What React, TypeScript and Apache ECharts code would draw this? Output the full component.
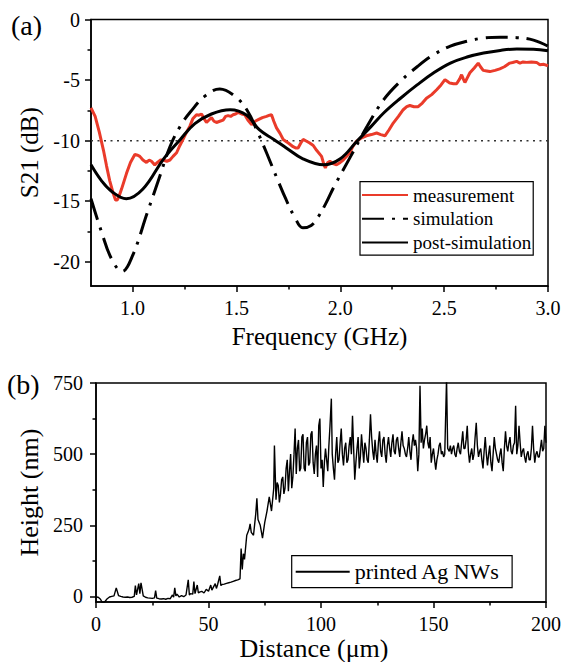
import { useEffect, useRef } from "react";
import * as echarts from "echarts";

const FONT = "'Liberation Serif', 'Times New Roman', Times, serif";

// ---------- panel (a): S21 vs frequency ----------
const freqTicks = [1.0, 1.5, 2.0, 2.5, 3.0];
const freqMinorTicks = [1.25, 1.75, 2.25, 2.75];
const s21Ticks = [-20, -15, -10, -5, 0];
const s21MinorTicks = [-17.5, -12.5, -7.5, -2.5];
const thresholdDb = -10;

const measurement: [number, number][] = [
  [0.8, -7.3], [0.82, -8.0], [0.84, -9.3], [0.86, -10.8], [0.875, -12.1], [0.89, -13.3],
  [0.906, -14.3], [0.918, -14.9], [0.926, -14.9], [0.935, -14.6], [0.947, -14.0], [0.96, -13.3],
  [0.971, -12.7], [0.99, -11.8], [1.011, -11.15], [1.025, -11.2], [1.035, -11.3], [1.05, -11.6],
  [1.067, -11.8], [1.08, -11.6], [1.091, -11.7], [1.107, -12.0], [1.12, -11.8], [1.135, -11.6],
  [1.147, -11.6], [1.165, -11.7], [1.18, -11.6], [1.195, -11.3], [1.212, -11.0], [1.228, -10.4],
  [1.243, -9.9], [1.26, -9.3], [1.276, -8.8], [1.29, -8.2], [1.308, -7.86], [1.32, -7.9],
  [1.332, -7.8], [1.345, -8.2], [1.356, -8.5], [1.368, -8.3], [1.38, -8.1], [1.392, -8.4],
  [1.404, -8.5], [1.42, -8.4], [1.436, -8.3], [1.448, -8.0], [1.46, -7.94], [1.472, -8.0],
  [1.484, -7.86], [1.496, -7.8], [1.508, -7.67], [1.525, -7.8], [1.54, -7.86], [1.555, -8.3],
  [1.573, -8.68], [1.59, -8.4], [1.605, -8.27], [1.625, -8.1], [1.645, -8.0], [1.66, -7.9],
  [1.669, -7.86], [1.68, -8.4], [1.693, -8.95], [1.71, -9.4], [1.725, -9.9], [1.75, -10.2],
  [1.773, -10.5], [1.785, -10.6], [1.797, -10.6], [1.81, -10.2], [1.821, -9.9], [1.838, -10.05],
  [1.853, -10.2], [1.87, -10.4], [1.886, -10.8], [1.91, -11.3], [1.92, -11.9], [1.928, -12.25],
  [1.94, -11.8], [1.95, -11.7], [1.965, -11.9], [1.982, -12.0], [2.0, -11.8], [2.014, -11.6],
  [2.03, -11.3], [2.046, -11.0], [2.06, -10.5], [2.078, -10.05], [2.1, -9.8], [2.126, -9.6],
  [2.15, -9.5], [2.175, -9.37], [2.195, -9.5], [2.215, -9.6], [2.235, -9.1], [2.255, -8.55],
  [2.28, -8.0], [2.303, -7.45], [2.32, -7.2], [2.335, -7.1], [2.355, -7.2], [2.375, -7.2],
  [2.395, -6.9], [2.415, -6.5], [2.44, -6.2], [2.464, -5.8], [2.485, -5.4], [2.504, -4.97],
  [2.515, -5.1], [2.527, -5.25], [2.545, -5.3], [2.56, -5.3], [2.575, -4.9], [2.584, -4.56],
  [2.592, -4.9], [2.6, -5.2], [2.612, -4.8], [2.624, -4.4], [2.645, -4.0], [2.664, -3.6],
  [2.675, -3.9], [2.688, -4.2], [2.705, -4.25], [2.72, -4.3], [2.745, -4.2], [2.768, -4.07],
  [2.79, -3.9], [2.816, -3.6], [2.83, -3.55], [2.849, -3.46], [2.865, -3.6], [2.88, -3.5],
  [2.897, -3.54], [2.92, -3.5], [2.945, -3.54], [2.961, -3.73], [2.98, -3.7], [3.0, -3.82],
];

const simulation: [number, number][] = [
  [0.8, -14.8], [0.85, -17.5], [0.9, -19.8], [0.95, -20.8], [1.0, -19.5], [1.07, -16.0],
  [1.13, -13.0], [1.18, -10.5], [1.23, -8.8], [1.28, -7.6], [1.35, -6.3], [1.42, -5.74],
  [1.49, -6.3], [1.55, -7.45], [1.6, -9.2], [1.645, -11.0], [1.7, -13.3], [1.74, -14.9],
  [1.78, -16.3], [1.82, -17.2], [1.86, -17.0], [1.89, -16.4], [1.93, -15.2], [1.97, -13.8],
  [2.05, -11.3], [2.13, -8.8], [2.21, -6.6], [2.29, -5.1], [2.37, -3.9], [2.45, -2.9],
  [2.53, -2.2], [2.61, -1.8], [2.69, -1.53], [2.77, -1.47], [2.85, -1.5], [2.93, -1.7],
  [3.0, -2.2],
];

const postSimulation: [number, number][] = [
  [0.8, -12.0], [0.85, -13.3], [0.9, -14.2], [0.97, -14.8], [1.05, -14.0], [1.15, -11.5],
  [1.23, -9.9], [1.3, -8.6], [1.38, -7.8], [1.47, -7.45], [1.55, -7.9], [1.61, -9.1],
  [1.68, -9.9], [1.74, -10.6], [1.82, -11.5], [1.92, -12.0], [2.0, -11.5], [2.08, -10.05],
  [2.15, -8.8], [2.21, -7.7], [2.29, -6.5], [2.37, -5.4], [2.45, -4.4], [2.53, -3.6],
  [2.61, -3.1], [2.69, -2.77], [2.77, -2.55], [2.85, -2.44], [2.93, -2.45], [3.0, -2.58],
];

// ---------- panel (b): height profile ----------
const distanceTicks = [0, 50, 100, 150, 200];
const distanceMinorTicks = [25, 75, 125, 175];
const heightTicks = [0, 250, 500, 750];
const heightMinorTicks = [125, 375, 625];

const agProfile: [number, number][] = [
  [0, -2], [1, -3], [2, -10], [3, -25], [4, -18], [5, -8], [6, -2], [7, 0], [8, 2], [9, 30],
  [10, 3], [11, 0], [12, -2], [13, -3], [14, -2], [15, -4], [16, -3], [17, 0], [17.5, 38],
  [18, 5], [19, 45], [19.5, 10], [20, 48], [21, 2], [22, -3], [23, -5], [24, -6], [25, -7],
  [26, -5], [26.5, 20], [27, -6], [28, -8], [29, -9], [30, -8], [31, -10], [32, -7], [33, -8],
  [34, 5], [34.5, -3], [35, 30], [35.5, 2], [36, 8], [37, -2], [38, 3], [39, -1], [40, 5],
  [41, 58], [41.5, 5], [42, 10], [43, 8], [43.5, 52], [44, 10], [45, 40], [45.5, 12], [46, 15],
  [47, 18], [48, 12], [49, 25], [50, 18], [51, 40], [51.5, 22], [52, 30], [53, 45], [53.5, 28],
  [54, 40], [55, 72], [55.5, 38], [56, 42], [57, 43], [58, 46], [59, 48], [60, 50], [61, 53],
  [62, 56], [63, 58], [64, 62], [64.5, 168], [65, 95], [65.5, 150], [66, 130], [67, 215],
  [68, 235], [68.5, 255], [69, 225], [70, 215], [71, 290], [71.5, 345], [72, 270], [73, 250],
  [74, 205], [75, 260], [76, 300], [77, 350], [78, 300], [79, 380], [79.3, 530],
  [80, 340], [80.5, 400], [81, 390], [81.5, 330], [82, 360], [82.5, 410], [83, 420], [83.5, 360],
  [84, 380], [84.5, 450], [85, 480], [85.5, 370], [86, 440], [86.5, 500], [87, 380], [87.5, 420],
  [88, 500], [88.5, 590], [89, 430], [89.5, 520], [90, 550], [90.5, 440], [91, 450], [91.5, 560],
  [92, 570], [92.5, 450], [93, 440], [93.5, 540], [94, 560], [94.5, 460], [95, 470], [95.5, 570],
  [96, 580], [96.5, 470], [97, 430], [97.5, 500], [98, 530], [98.5, 420], [99, 600], [99.5, 625],
  [100, 450], [100.5, 480], [101, 385], [101.5, 470], [102, 520], [102.5, 480], [103, 440],
  [103.5, 530], [104, 600], [104.6, 695], [105, 500], [105.5, 450], [106, 410], [106.5, 500],
  [107, 560], [107.5, 470], [108, 480], [108.5, 540], [109, 590], [109.5, 500], [110, 460],
  [110.5, 520], [111, 540], [111.5, 470], [112, 480], [112.5, 530], [113, 560], [113.5, 500],
  [114, 635], [114.5, 520], [115, 410], [115.5, 470], [116, 520], [116.5, 560], [117, 450],
  [117.5, 490], [118, 570], [118.5, 520], [119, 470], [119.5, 540], [120, 520], [120.5, 480],
  [121, 470], [121.5, 550], [122, 640], [122.5, 560], [123, 510], [123.5, 480], [124, 550],
  [124.5, 500], [125, 470], [125.5, 540], [126, 580], [126.5, 510], [127, 490], [127.5, 550],
  [128, 560], [128.5, 500], [129, 470], [129.5, 530], [130, 560], [130.5, 520], [131, 490],
  [131.5, 540], [132, 570], [132.5, 510], [133, 500], [133.5, 550], [134, 560], [134.5, 520],
  [135, 490], [135.5, 540], [136, 580], [136.5, 530], [137, 520], [137.5, 500], [138, 490],
  [138.5, 520], [139, 560], [139.5, 510], [140, 480], [140.5, 540], [141, 570], [141.5, 530],
  [142, 550], [142.5, 520], [143, 440], [143.5, 500], [144, 740], [144.5, 540], [145, 590],
  [145.5, 520], [146, 550], [146.5, 570], [147, 600], [147.5, 540], [148, 520], [148.5, 560],
  [149, 470], [149.5, 500], [150, 520], [150.5, 480], [151, 445], [151.5, 480], [152, 500],
  [152.5, 530], [153, 540], [153.5, 500], [154, 510], [154.5, 490], [155, 500], [155.8, 765],
  [156.3, 520], [157, 510], [157.5, 530], [158, 500], [158.5, 520], [159, 530], [159.5, 500],
  [160, 490], [160.5, 520], [161, 540], [161.5, 510], [162, 500], [162.5, 540], [163, 580],
  [163.5, 520], [164, 520], [164.5, 550], [165, 600], [165.5, 510], [166, 470], [166.5, 500],
  [167, 520], [167.5, 480], [168, 500], [168.5, 560], [169, 610], [169.5, 530], [170, 490],
  [170.5, 510], [171, 520], [171.5, 480], [172, 450], [172.5, 510], [173, 560], [173.5, 500],
  [174, 460], [174.5, 500], [175, 530], [175.5, 470], [176, 440], [176.5, 500], [177, 560],
  [177.5, 520], [178, 500], [178.5, 480], [179, 470], [179.5, 500], [180, 520], [180.5, 470],
  [181, 440], [181.5, 520], [182, 580], [182.5, 530], [183, 510], [183.5, 540], [184, 560],
  [184.5, 510], [185, 500], [185.5, 530], [186, 540], [186.5, 670], [187, 500], [187.5, 530],
  [188, 600], [188.5, 540], [189, 490], [189.5, 510], [190, 520], [190.5, 490], [191, 470],
  [191.5, 500], [192, 510], [192.5, 480], [193, 480], [193.5, 520], [194, 600], [194.5, 520],
  [195, 470], [195.5, 500], [196, 510], [196.5, 490], [197, 490], [197.5, 520], [198, 550],
  [198.5, 510], [199, 520], [199.5, 600], [200, 540],
];

const BLACK = "#000";
const RED = "#ea3b2a";

const tickLine = { color: BLACK, width: 1.5 };
const labelBase = { color: BLACK, fontFamily: FONT, fontSize: 20 };
const nameBase = { color: BLACK, fontFamily: FONT, fontSize: 25 };

function majorAxis(grid: number, pos: string, min: number, max: number, ticks: number[], fmt: (v: number) => string, extra: any) {
  return {
    type: "value", gridIndex: grid, position: pos, min, max,
    axisLine: { show: true, onZero: false, lineStyle: tickLine },
    axisTick: { show: true, inside: false, length: 6, lineStyle: tickLine, customValues: ticks },
    axisLabel: { show: true, customValues: ticks, formatter: fmt, ...labelBase, ...(extra.label || {}) },
    splitLine: { show: false },
    name: extra.name, nameLocation: "middle", nameGap: extra.nameGap,
    nameTextStyle: { ...nameBase, ...(extra.nameStyle || {}) },
  };
}
function minorAxis(grid: number, pos: string, min: number, max: number, ticks: number[]) {
  return {
    type: "value", gridIndex: grid, position: pos, min, max,
    axisLine: { show: false, onZero: false },
    axisTick: { show: true, inside: false, length: 3.5, lineStyle: tickLine, customValues: ticks },
    axisLabel: { show: false },
    splitLine: { show: false },
  };
}

export default function App() {
  const ref = useRef<HTMLDivElement>(null);
  useEffect(() => {
    if (!ref.current) return;
    const chart = echarts.init(ref.current, undefined, { renderer: "svg" });
    chart.setOption({
      animation: false,
      backgroundColor: "#fff",
      textStyle: { fontFamily: FONT },
      grid: [
        { left: 91, top: 19.5, width: 457, height: 266.5, show: true, borderColor: BLACK, borderWidth: 1.5, backgroundColor: "transparent" },
        { left: 96, top: 383, width: 456, height: 222, show: true, borderColor: BLACK, borderWidth: 1.5, backgroundColor: "transparent" },
      ],
      xAxis: [
        majorAxis(0, "bottom", 0.8, 3.0, freqTicks, (v: number) => v.toFixed(1), { name: "Frequency (GHz)", nameGap: 38, label: { margin: 12 } }),
        minorAxis(0, "bottom", 0.8, 3.0, freqMinorTicks),
        majorAxis(1, "bottom", 0, 200, distanceTicks, (v: number) => String(v), { name: "Distance (\u03bcm)", nameGap: 31, label: { margin: 12 }, nameStyle: { fontSize: 26, padding: [0, 14, 0, 0] } }),
        minorAxis(1, "bottom", 0, 200, distanceMinorTicks),
      ],
      yAxis: [
        majorAxis(0, "left", -22, 0, s21Ticks, (v: number) => String(v), { name: "S21 (dB)", nameGap: 45, label: { margin: 11 } }),
        minorAxis(0, "left", -22, 0, s21MinorTicks),
        majorAxis(1, "left", -20, 750, heightTicks, (v: number) => String(v), { name: "Height (nm)", nameGap: 52, label: { margin: 13 }, nameStyle: { fontSize: 26 } }),
        minorAxis(1, "left", -20, 750, heightMinorTicks),
      ],
      legend: [
        {
          orient: "vertical", left: 360, top: 181.7,
          data: ["measurement", "simulation", "post-simulation"],
          itemWidth: 46, itemHeight: 20, itemGap: 3.7,
          padding: [3.3, 2, 2.7, 1],
          itemStyle: { opacity: 0 },
          borderColor: BLACK, borderWidth: 1.2, borderRadius: 0, backgroundColor: "#fff",
          textStyle: { color: BLACK, fontFamily: FONT, fontSize: 19, lineHeight: 20 },
        },
        {
          orient: "vertical", left: 291.7, top: 555.7,
          data: ["printed Ag NWs"],
          itemWidth: 54, itemHeight: 22,
          padding: [5, 12, 5, 3],
          itemStyle: { opacity: 0 },
          borderColor: BLACK, borderWidth: 1.2, borderRadius: 0, backgroundColor: "#fff",
          textStyle: { color: BLACK, fontFamily: FONT, fontSize: 22, lineHeight: 22 },
        },
      ],
      graphic: [
        { type: "text", left: 11, top: 11, style: { text: "(a)", fontFamily: FONT, fontSize: 28, fill: BLACK } },
        { type: "text", left: 7, top: 370, style: { text: "(b)", fontFamily: FONT, fontSize: 28, fill: BLACK } },
      ],
      series: [
        {
          name: "threshold", type: "line", xAxisIndex: 0, yAxisIndex: 0,
          data: [[0.8, thresholdDb], [3.0, thresholdDb]], symbol: "none", silent: true,
          lineStyle: { color: "#333", width: 1.5, type: [2, 4.5] },
        },
        {
          name: "measurement", type: "line", xAxisIndex: 0, yAxisIndex: 0, data: measurement,
          symbol: "none", lineStyle: { color: RED, width: 3 }, itemStyle: { color: RED },
        },
        {
          name: "simulation", type: "line", xAxisIndex: 0, yAxisIndex: 0, data: simulation,
          symbol: "none", smooth: 0.4, lineStyle: { color: BLACK, width: 3, type: [22, 8, 3, 8] }, itemStyle: { color: BLACK },
        },
        {
          name: "post-simulation", type: "line", xAxisIndex: 0, yAxisIndex: 0, data: postSimulation,
          symbol: "none", smooth: 0.4, lineStyle: { color: BLACK, width: 3 }, itemStyle: { color: BLACK },
        },
        {
          name: "printed Ag NWs", type: "line", xAxisIndex: 2, yAxisIndex: 2, data: agProfile,
          symbol: "none", lineStyle: { color: BLACK, width: 1.4 }, itemStyle: { color: BLACK },
        },
      ],
    });
    return () => chart.dispose();
  }, []);
  return <div ref={ref} style={{ position: "absolute", left: 0, top: 0, width: 564, height: 662, background: "#fff" }} />;
}
